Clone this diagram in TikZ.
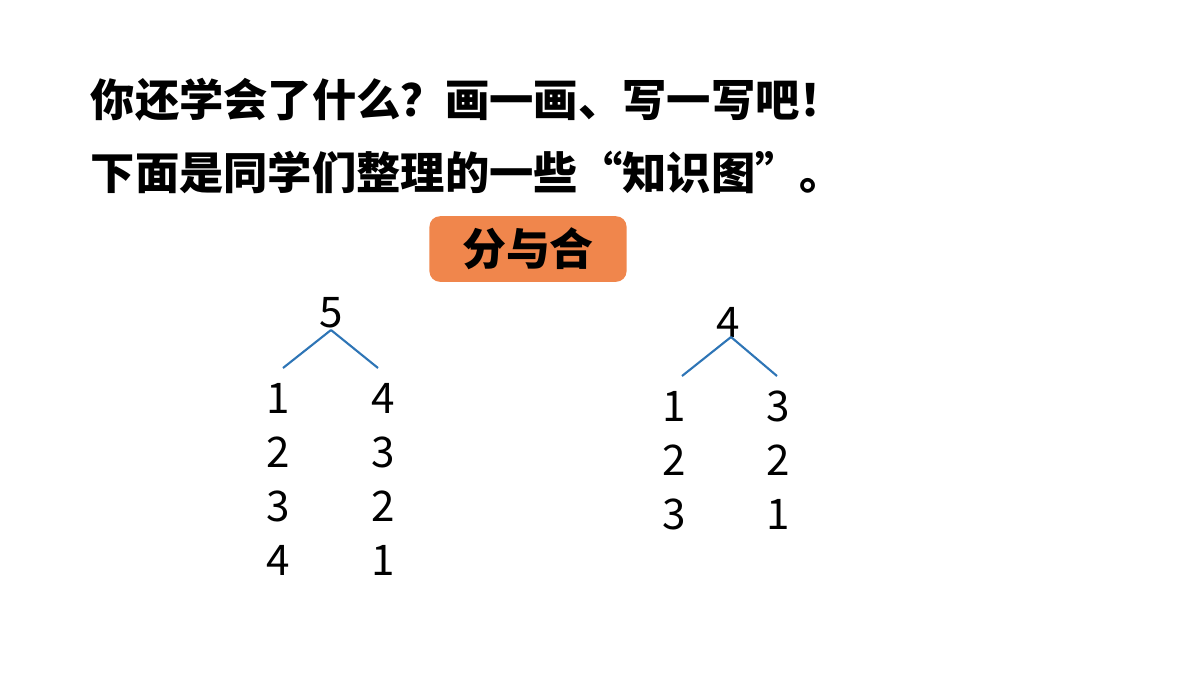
\documentclass[tikz,border=0pt]{standalone}
\usepackage{fontspec}
\setmainfont{Noto Sans CJK SC}
\tikzset{every node/.style={align=center}}
\tikzset{num/.style={font=\fontsize{12pt}{14pt}\selectfont, inner sep=0pt}}
\definecolor{branchblue}{RGB}{46,117,182}
\tikzset{branch/.style={draw=branchblue, line width=0.6pt}}
\tikzset{title/.style={font=\fontsize{12.6pt}{14pt}\selectfont\bfseries, anchor=west, inner sep=0pt}}
\definecolor{tagorange}{RGB}{240,134,76}
\begin{document}
\begin{tikzpicture}[x=0.01cm, y=-0.01cm]
		% Frame
		\useasboundingbox (0,0) rectangle (1200,675);
		
		% Title lines
		\node[title] (q1) at (90,100) {你还学会了什么？画一画、写一写吧！};
		\node[title] (q2) at (90,172) {下面是同学们整理的一些“知识图”。};
		
		% Tag
		\node[fill=tagorange, rounded corners=3pt, minimum width=1.97cm, minimum height=0.58cm, font=\fontsize{12.5pt}{14pt}\selectfont\bfseries] (tag) at (528,249) {分与合};
		
		% Tree five
		\node[num] (t5) at (331,313) {5};
		\coordinate (t5l) at (283,368);
		\coordinate (t5r) at (378,368);
		\draw[branch] (331,330) -- (t5l);
		\draw[branch] (331,330) -- (t5r);
		\foreach \a/\b [count=\i] in {1/4,2/3,3/2,4/1}
		{
			\node[num] (fa\i) at (278,{344+54*\i}) {\a};
			\node[num] (fb\i) at (383,{344+54*\i}) {\b};
		}
		
		% Tree four
		\node[num] (t4) at (728,322) {4};
		\coordinate (t4l) at (682,376);
		\coordinate (t4r) at (777,376);
		\draw[branch] (731,337) -- (t4l);
		\draw[branch] (731,337) -- (t4r);
		\foreach \a/\b [count=\i] in {1/3,2/2,3/1}
		{
			\node[num] (ga\i) at (674,{352+54*\i}) {\a};
			\node[num] (gb\i) at (778,{352+54*\i}) {\b};
		}
\end{tikzpicture}
\end{document}
